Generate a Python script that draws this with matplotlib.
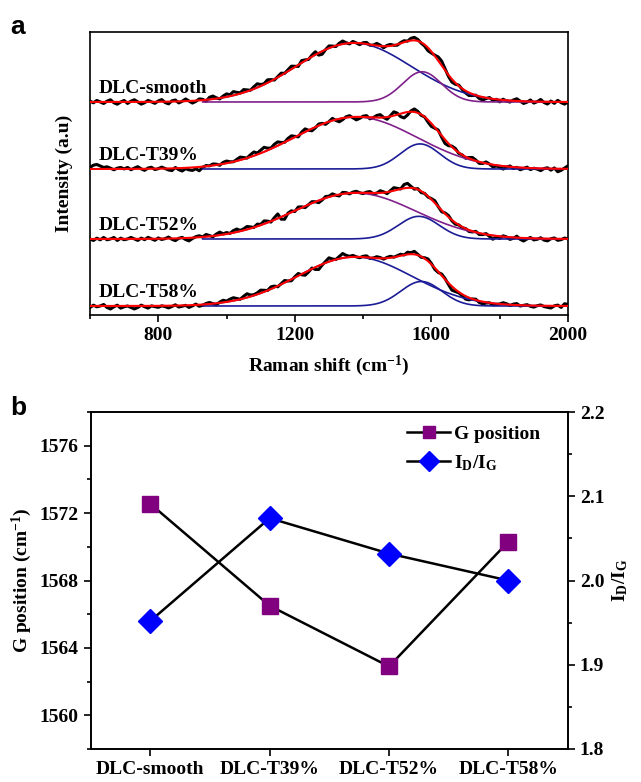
import numpy as np
import matplotlib.pyplot as plt
from matplotlib.ticker import MultipleLocator

plt.rcParams['font.family'] = 'Liberation Serif'
plt.rcParams['font.weight'] = 'bold'
plt.rcParams['font.size'] = 14
plt.rcParams['mathtext.fontset'] = 'custom'
plt.rcParams['mathtext.rm'] = 'Liberation Serif:bold'
plt.rcParams['mathtext.it'] = 'Liberation Serif:bold:italic'
plt.rcParams['mathtext.bf'] = 'Liberation Serif:bold'

samples = ['DLC-smooth', 'DLC-T39%', 'DLC-T52%', 'DLC-T58%']

# panel b values
g_position = [1572.55, 1566.5, 1562.9, 1570.3]
id_ig = [1.952, 2.074, 2.032, 2.0]

# panel a: two-band (D + G) gaussian fits, vertical offsets for stacking
offsets = [213, 146, 76, 9]
d_center = [1372, 1378, 1376, 1375]
d_sigma = [168, 180, 178, 168]
d_height = [59, 52, 46, 49]
g_sigma = [57, 58, 60, 60]
d_color = ['#1c1c96', '#80208a', '#80208a', '#1c1c96']
g_color = ['#80208a', '#1c1c96', '#1c1c96', '#1c1c96']

# measured spectra, stored as residual from the fit, 600-2000 cm-1 every 10 cm-1
shift = np.arange(600, 2001, 10)
smooth_resid = [
    0.8, -0.8, 1.5, 0.0, -1.5, 0.8, 2.2, -0.8, -2.2, 0.0,
    1.5, -1.5, 0.8, 2.2, 0.0, -2.2, -0.8, 1.5, 0.0, -1.5,
    0.8, 2.2, -0.8, -2.2, 0.8, 1.5, -1.5, 0.0, 2.2, 0.0,
    -2.2, -0.8, 1.5, 0.8, -1.5, 2.2, 3.0, 0.8, -0.8, 1.5,
    3.0, 1.5, 3.8, 2.2, 0.8, 3.0, 1.5, 0.0, 2.2, 3.8,
    1.5, 0.8, 3.0, 1.5, -0.8, 0.8, 2.2, 0.0, 1.5, 3.0,
    0.8, -1.5, 2.2, 0.8, -0.8, 1.5, 3.0, -2.2, -3.0, 0.0,
    2.2, 0.8, -0.8, 1.5, 3.0, 0.8, -0.8, 1.5, 0.0, -1.5,
    0.8, 1.5, -0.8, 0.0, 2.2, 0.8, -1.5, 0.8, 1.5, 0.0,
    -0.8, 0.8, 1.5, 0.0, 2.2, 3.0, 1.5, -0.8, -1.5, -3.0,
    -1.5, 0.8, 3.8, 4.5, 1.5, -1.5, -3.0, -1.5, 0.8, -0.8,
    -2.2, -3.0, -1.5, 0.0, -2.2, -3.0, -0.8, 0.8, -1.5, 0.0,
    -2.2, 0.8, -0.8, -1.5, 0.8, 2.2, 0.0, -2.2, -0.8, 1.5,
    -1.5, 0.0, 2.2, -0.8, -2.2, 0.8, -1.5, 1.5, -0.8, -2.2,
    0.0]
t39_resid = [
    1.5, 3.8, 4.5, 3.0, 1.5, 2.2, 0.8, -0.8, 0.8, 1.5,
    0.0, 1.5, -0.8, 0.8, 2.2, 0.0, -1.5, 0.8, 1.5, -0.8,
    0.0, 1.5, 0.0, -1.5, -2.2, 0.8, -1.5, -3.0, -0.8, -2.2,
    -3.0, -1.5, -3.8, -0.8, 0.8, 0.0, 1.5, 0.8, -0.8, 1.5,
    2.2, 0.8, 0.0, 1.5, 3.0, 1.5, 0.0, 2.2, 3.8, 1.5,
    3.0, 4.5, 2.2, 0.8, 3.0, 3.8, 1.5, 0.0, 2.2, 3.0,
    0.8, -1.5, 1.5, 3.0, 0.0, -2.2, -0.8, 1.5, 0.8, -1.5,
    0.0, 2.2, -0.8, -3.0, -1.5, 0.8, 1.5, -0.8, -3.0, -1.5,
    0.8, 1.5, -1.5, 0.0, 2.2, 3.0, 0.0, -2.2, 0.8, 3.8,
    1.5, -3.0, -5.2, -3.0, 0.8, 3.0, 1.5, -0.8, 0.0, -2.2,
    -3.0, -0.8, 1.5, -1.5, -3.8, -2.2, 0.8, 1.5, -0.8, 0.0,
    -1.5, 0.8, 2.2, 0.8, -1.5, -0.8, 1.5, 0.0, -2.2, -0.8,
    -1.5, -3.0, -0.8, 0.8, -1.5, 0.0, -2.2, -0.8, 0.8, -1.5,
    0.0, -0.8, -2.2, 0.0, 0.8, -1.5, 0.8, -3.0, -1.5, 0.8,
    3.0]
t52_resid = [
    0.0, -1.5, 0.8, -0.8, 1.5, -0.8, 0.0, 1.5, -1.5, 0.8,
    -0.8, 0.0, 1.5, 0.0, -1.5, 0.8, -0.8, 1.5, 0.0, -1.5,
    0.8, -0.8, 0.0, 1.5, -0.8, -2.2, 0.0, 0.8, -1.5, -3.0,
    -0.8, 0.8, 1.5, 0.0, 2.2, 0.8, -0.8, 1.5, 3.0, 0.8,
    1.5, 0.0, 2.2, 3.0, 0.8, 1.5, 3.0, 1.5, 0.0, 2.2,
    0.8, 3.0, 1.5, -0.8, 2.2, 4.5, -2.2, -3.8, 0.8, 1.5,
    -0.8, 2.2, 0.8, -1.5, 0.0, 1.5, 0.0, -2.2, -0.8, 1.5,
    0.8, 2.2, 0.0, -1.5, 1.5, 0.8, -0.8, 0.8, 1.5, 0.0,
    -0.8, 0.8, 1.5, -0.8, 0.0, 2.2, 0.8, -1.5, 0.8, 3.0,
    1.5, 0.0, 3.8, 4.5, 1.5, -0.8, 0.8, -1.5, 0.0, -0.8,
    0.8, 2.2, 0.0, -1.5, 0.8, 1.5, -0.8, -1.5, 0.0, -0.8,
    0.0, -1.5, -0.8, 0.8, -1.5, -0.8, 0.8, -1.5, -3.8, -0.8,
    -2.2, 0.8, 0.0, -2.2, -0.8, 1.5, -1.5, -3.0, -0.8, 0.8,
    -1.5, -0.8, 0.8, -1.5, -2.2, 0.0, 0.8, -1.5, -0.8, 0.8,
    0.0]
t58_resid = [
    -1.5, 0.8, -0.8, 0.0, 1.5, -1.5, -3.0, -0.8, 0.8, -2.2,
    -0.8, 0.0, -1.5, -3.0, -1.5, 0.8, -0.8, -2.2, 0.0, -0.8,
    -1.5, 0.0, -0.8, -2.2, -0.8, 0.8, -1.5, -0.8, 0.0, -2.2,
    -0.8, 0.8, -1.5, -0.8, 0.8, 1.5, 0.0, -1.5, 0.8, 2.2,
    0.8, 2.2, 3.0, 1.5, 0.0, 2.2, 3.8, 1.5, 0.8, 1.5,
    3.0, 1.5, 0.0, 2.2, 1.5, -0.8, 0.8, 2.2, 0.0, -1.5,
    0.8, 2.2, -0.8, -3.0, -1.5, 0.8, -2.2, -3.8, -0.8, 1.5,
    3.8, 1.5, 0.0, 2.2, 4.5, 2.2, 0.8, 1.5, 0.0, -0.8,
    0.8, 1.5, -0.8, 0.0, 1.5, 0.8, -0.8, 0.8, 1.5, 0.0,
    0.8, 1.5, 0.0, 2.2, 1.5, 3.0, 0.8, -0.8, 0.8, 2.2,
    0.8, -1.5, -0.8, 1.5, 0.8, -1.5, -3.8, -2.2, -0.8, -1.5,
    -3.0, -2.2, 0.0, 0.8, -1.5, -2.2, -0.8, 0.0, -1.5, -0.8,
    0.0, 1.5, 0.8, -0.8, 0.8, 1.5, -0.8, 0.0, 0.8, -0.8,
    -1.5, 0.0, 0.8, -0.8, -1.5, -2.2, 0.0, 0.8, -1.5, 2.2,
    1.5]
residuals = [smooth_resid, t39_resid, t52_resid, t58_resid]


def gauss(x, c, s, h):
    return h * np.exp(-(x - c) ** 2 / (2 * s ** 2))


fig = plt.figure(figsize=(6.41, 7.82), dpi=100)
ax = fig.add_axes([0.1404, 0.5972, 0.7457, 0.3619])

xf = np.linspace(600, 2000, 701)
xc = xf[xf >= 930]
for i in range(4):
    g_h = d_height[i] / id_ig[i]
    fit = gauss(xf, d_center[i], d_sigma[i], d_height[i]) + gauss(xf, g_position[i], g_sigma[i], g_h)
    fit_s = gauss(shift, d_center[i], d_sigma[i], d_height[i]) + gauss(shift, g_position[i], g_sigma[i], g_h)
    off = offsets[i]
    ax.plot(shift, off + fit_s + np.array(residuals[i]), color='black', lw=2.2, zorder=2)
    ax.plot(xc, off + gauss(xc, d_center[i], d_sigma[i], d_height[i]), color=d_color[i], lw=1.2, zorder=3)
    ax.plot(xc, off + gauss(xc, g_position[i], g_sigma[i], g_h), color=g_color[i], lw=1.2, zorder=3)
    ax.plot(xf, off + fit, color='red', lw=1.5, zorder=4)
    ax.text(626, off + 5, samples[i], fontsize=14, fontweight='bold', va='bottom', ha='left')

ax.set_xlim(600, 2000)
ax.set_ylim(0, 283)
ax.set_yticks([])
ax.xaxis.set_major_locator(MultipleLocator(400))
ax.xaxis.set_minor_locator(MultipleLocator(200))
ax.tick_params(axis='x', which='major', direction='out', length=5, width=1.2, labelsize=14)
ax.tick_params(axis='x', which='minor', direction='out', length=3, width=1.2)
ax.set_xlabel('Raman shift (cm$^{-1}$)', fontsize=14, fontweight='bold', labelpad=7)
ax.set_ylabel('Intensity (a.u)', fontsize=14, fontweight='bold', labelpad=12)
for sp in ax.spines.values():
    sp.set_linewidth(1.2)
fig.text(0.016, 0.965, 'a', fontsize=19, fontweight='bold', family='Liberation Sans', va='center')

# panel b
bx = fig.add_axes([0.1415, 0.0422, 0.7446, 0.4309])
bx2 = bx.twinx()
pos = np.arange(len(samples))
l1, = bx.plot(pos, g_position, color='black', lw=1.8, marker='s', markersize=11,
              markerfacecolor='#800080', markeredgecolor='#800080', label='G position')
l2, = bx2.plot(pos, id_ig, color='black', lw=1.8, marker='D', markersize=12,
               markerfacecolor='#0000ff', markeredgecolor='#0000ff', label='I$_\\mathrm{D}$/I$_\\mathrm{G}$')
bx.set_xlim(-0.5, 3.5)
bx.set_xticks(pos)
bx.set_xticklabels(samples)
bx.set_ylim(1558, 1578)
bx.yaxis.set_major_locator(MultipleLocator(4))
bx.yaxis.set_minor_locator(MultipleLocator(2))
bx2.set_ylim(1.8, 2.2)
bx2.yaxis.set_major_locator(MultipleLocator(0.1))
bx2.yaxis.set_minor_locator(MultipleLocator(0.05))
bx.tick_params(axis='both', which='major', direction='out', length=5, width=1.2, labelsize=14)
bx.tick_params(axis='y', which='minor', direction='out', length=3, width=1.2)
bx2.tick_params(axis='y', which='major', direction='out', length=5, width=1.2, labelsize=14)
bx2.tick_params(axis='y', which='minor', direction='out', length=3, width=1.2)
bx.set_ylabel('G position (cm$^{-1}$)', fontsize=14, fontweight='bold')
bx2.set_ylabel('I$_\\mathrm{D}$/I$_\\mathrm{G}$', fontsize=14, fontweight='bold')
for a in (bx, bx2):
    for sp in a.spines.values():
        sp.set_linewidth(1.2)
bx2.legend([l1, l2], ['G position', 'I$_\\mathrm{D}$/I$_\\mathrm{G}$'], loc='upper right',
           frameon=False, fontsize=14, handlelength=2.2, handletextpad=0.2,
           markerscale=0.85, borderaxespad=0.3, bbox_to_anchor=(0.97, 1.0))
fig.text(0.016, 0.478, 'b', fontsize=19, fontweight='bold', family='Liberation Sans', va='center')

fig.savefig('out.png', dpi=100)
